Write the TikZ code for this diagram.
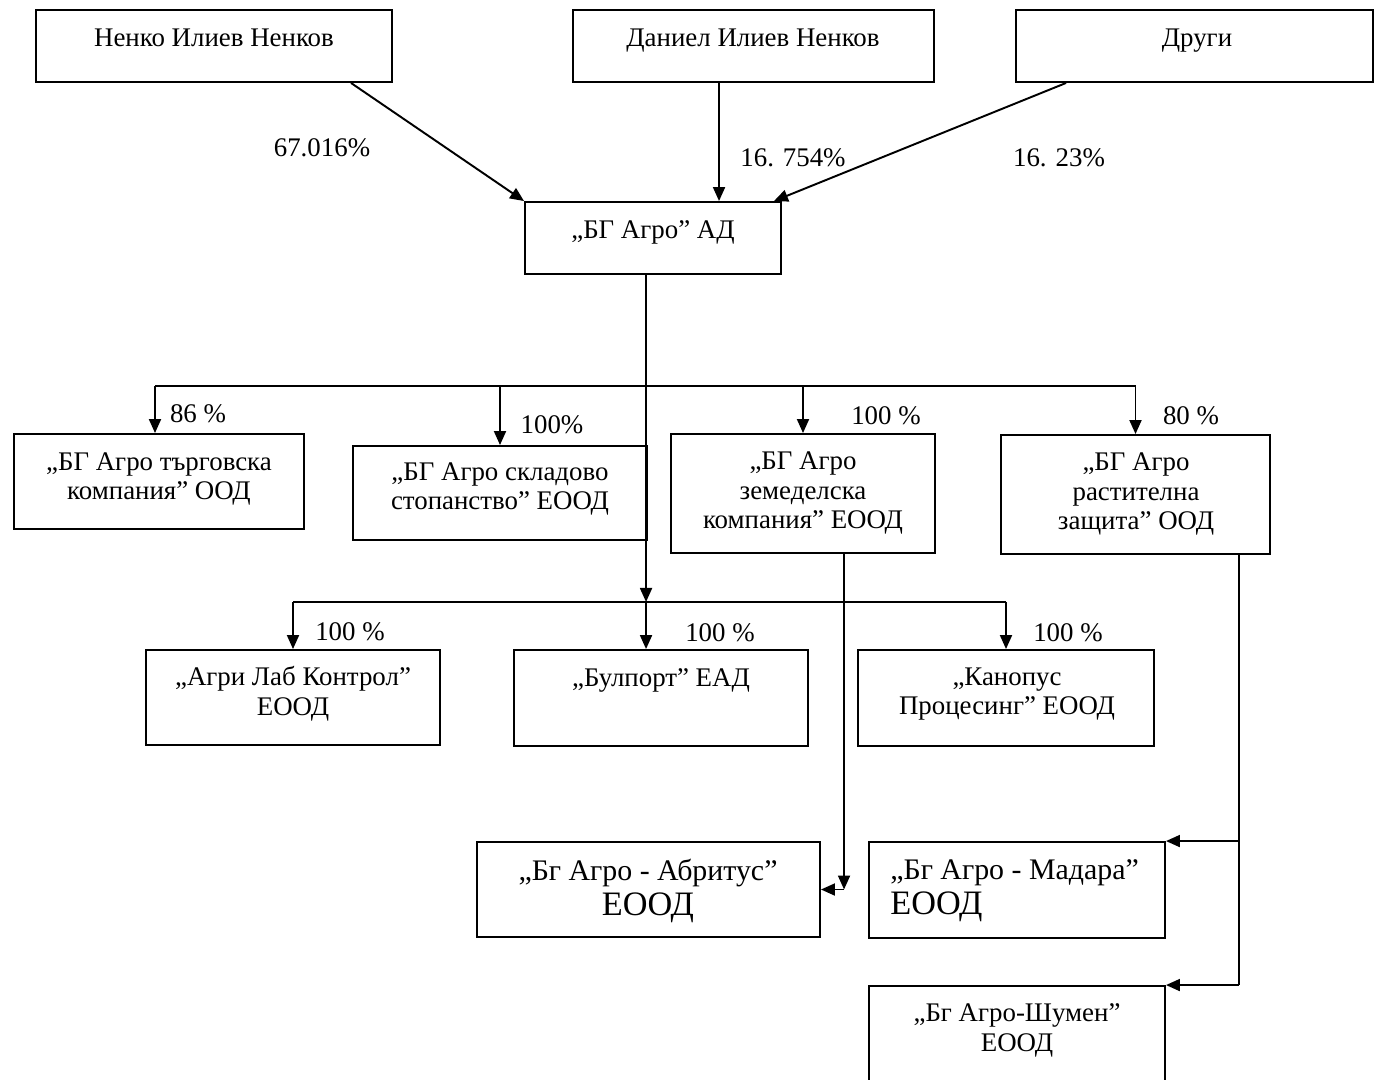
\documentclass[tikz,border=0pt]{standalone}
\usepackage{fontspec}
\setmainfont{Liberation Serif}
\usetikzlibrary{arrows.meta,fit,calc}
\begin{document}
\begin{tikzpicture}[x=0.02cm,y=-0.02cm,
 box/.style={draw,line width=1.1pt,inner sep=0pt},
 txt/.style={font=\fontsize{15.3}{17}\selectfont,align=center,inner sep=0pt},
 one/.style={txt,text height=0.68em,text depth=0.2em},
 big/.style={font=\fontsize{17}{20}\selectfont,inner sep=0pt},
 pct/.style={font=\fontsize{15.3}{17}\selectfont,inner sep=0pt},
 ln/.style={line width=1.1pt},
 arr/.style={line width=1.1pt,-{Triangle[length=2.8mm,width=2.4mm]}}]
\useasboundingbox (0,0) rectangle (1375,1079);
\clip (0,0) rectangle (1375,1079);
% boxes
\node[box,fit={(36,10) (392,82)}] (nen) {};
\node[box,fit={(573,10) (934,82)}] (dan) {};
\node[box,fit={(1016,10) (1373,82)}] (dru) {};
\node[box,fit={(525,202) (781,274)}] (ad) {};
\node[box,fit={(14,434) (304,529)}] (trg) {};
\node[box,fit={(353,446) (647,540)}] (skl) {};
\node[box,fit={(671,434) (935,553)}] (zem) {};
\node[box,fit={(1001,435) (1270,554)}] (rst) {};
\node[box,fit={(146,650) (440,745)}] (agr) {};
\node[box,fit={(514,650) (808,746)}] (bul) {};
\node[box,fit={(858,650) (1154,746)}] (kan) {};
\node[box,fit={(477,842) (820,937)}] (abr) {};
\node[box,fit={(869,842) (1165,938)}] (mad) {};
\node[box,fit={(869,986) (1165,1095)}] (shu) {};
% texts
\node[one] (tnen) at (214,42) {Ненко Илиев Ненков};
\node[one] (tdan) at (753,42) {Даниел Илиев Ненков};
\node[one] (tdru) at (1197,42) {Други};
\node[one] (tad) at (653,234) {„БГ Агро” АД};
\node[txt] (ttrg) at (159,479) {„БГ Агро търговска\\компания” ООД};
\node[txt] (tskl) at (500,489) {„БГ Агро складово\\стопанство” ЕООД};
\node[txt] (tzem) at (803,493) {„БГ Агро\\земеделска\\компания” ЕООД};
\node[txt] (trst) at (1136,494) {„БГ Агро\\растителна\\защита” ООД};
\node[txt] (tagr) at (293,694) {„Агри Лаб Контрол”\\ЕООД};
\node[one] (tbul) at (661,682) {„Булпорт” ЕАД};
\node[txt] (tkan) at (1007,694) {„Канопус\\Процесинг” ЕООД};
\node[big,align=center] (tabr) at (648,891) {„Бг Агро - Абритус”\\{\fontsize{19.5}{20}\selectfont ЕООД}};
\node[big,align=left,anchor=west] (tmad) at (890,891) {„Бг Агро - Мадара”\\{\fontsize{19.5}{20}\selectfont ЕООД}};
\node[txt] (tshu) at (1017,1030) {„Бг Агро-Шумен”\\ЕООД};
% percentages
\node[pct] (p1) at (322,148) {67.016\%};
\node[pct] (p2) at (793,158) {16. 754\%};
\node[pct] (p3) at (1059,158) {16. 23\%};
\node[pct] (p4) at (198,414) {86 \%};
\node[pct] (p5) at (552,425) {100\%};
\node[pct] (p6) at (886,416) {100 \%};
\node[pct] (p7) at (1191,416) {80 \%};
\node[pct] (p8) at (350,632) {100 \%};
\node[pct] (p9) at (720,633) {100 \%};
\node[pct] (p10) at (1068,633) {100 \%};
% owners to AD
\draw[arr] ($(nen.south west)+(316,0)$) -- (ad.north west);
\draw[arr] ($(dan.south west)+(147,0)$) coordinate (dx) -- (dx |- ad.north);
\draw[arr] ($(dru.south west)+(51,0)$) -- ($(ad.north east)+(-8,0)$);
% trunk
\coordinate (tt) at ($(ad.south west)+(122,0)$);
\coordinate (bus1) at ($(tt)+(0,111)$);
\coordinate (bus2) at ($(tt)+(0,327)$);
\coordinate (tx) at ($(trg.north)+(-4,0)$);
\draw[ln] (tt) -- (bus1);
\draw[ln] (tx |- bus1) -- (rst.north |- bus1);
\draw[arr] (tx |- bus1) -- (tx);
\draw[arr] (skl.north |- bus1) -- (skl.north);
\draw[arr] (zem.north |- bus1) -- (zem.north);
\draw[arr] (rst.north |- bus1) -- (rst.north);
\draw[arr] (bus1) -- (bus2);
\draw[ln] (agr.north |- bus2) -- (kan.north |- bus2);
\draw[arr] (agr.north |- bus2) -- (agr.north);
\draw[arr] (bus2) -- (bus2 |- bul.north);
\draw[arr] (kan.north |- bus2) -- (kan.north);
% zemedelska to Abritus
\coordinate (zx) at ($(zem.south west)+(174,0)$);
\coordinate (zb) at (zx |- abr.east);
\draw[arr] (zx) -- (zb);
\draw[arr] (zb) -- (abr.east);
% rastitelna to Madara / Shumen
\coordinate (rx) at ($(rst.south west)+(239,0)$);
\draw[ln] (rx) -- (rx |- shu.north east);
\draw[arr] (rx |- mad.north east) -- (mad.north east);
\draw[arr] (rx |- shu.north east) -- (shu.north east);
\end{tikzpicture}
\end{document}
